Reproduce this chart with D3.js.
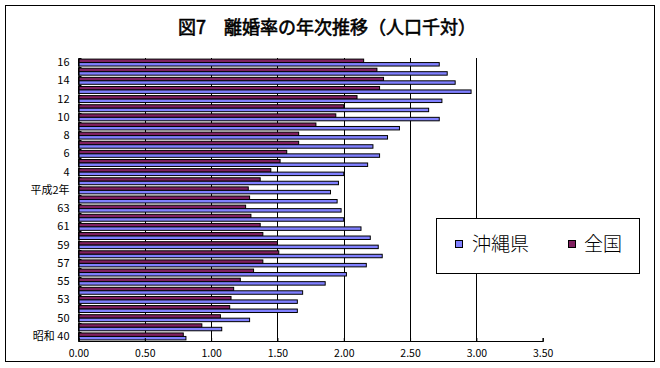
<!DOCTYPE html>
<html><head><meta charset="utf-8">
<script src="https://cdn.jsdelivr.net/npm/d3@7"></script>
<style>
html,body{margin:0;padding:0;background:#fff;}
svg{display:block;}
text{font-family:"Noto Sans CJK JP","DejaVu Sans",sans-serif;}
</style></head>
<body>
<svg id="chart" width="660" height="368"></svg>
<script>
// categories from bottom (昭和40) to top (平成16)
const categories = ["昭和40","昭和45","昭和50","昭和52","昭和53","昭和54","昭和55","昭和56","昭和57","昭和58","昭和59","昭和60","昭和61","昭和62","昭和63","平成元","平成2","平成3","平成4","平成5","平成6","平成7","平成8","平成9","平成10","平成11","平成12","平成13","平成14","平成15","平成16"];
const tickLabels = ["昭和 40","","50","","53","","55","","57","","59","","61","","63","","平成2年","","4","","6","","8","","10","","12","","14","","16"];
const okinawa = [0.81,1.08,1.29,1.65,1.65,1.69,1.86,2.02,2.17,2.29,2.26,2.20,2.13,2.00,1.98,1.95,1.90,1.96,2.00,2.18,2.27,2.22,2.33,2.42,2.72,2.64,2.74,2.96,2.84,2.78,2.72];
const zenkoku = [0.79,0.93,1.07,1.14,1.15,1.17,1.22,1.32,1.39,1.51,1.50,1.39,1.37,1.30,1.26,1.29,1.28,1.37,1.45,1.52,1.57,1.66,1.66,1.79,1.94,2.00,2.10,2.27,2.30,2.25,2.15];
const xTicks = [0,0.5,1.0,1.5,2.0,2.5,3.0,3.5];
const seriesNames = ["沖縄県","全国"];
const seriesColors = ["#8080FF","#802060"];
const title = "図7　離婚率の年次推移（人口千対）";

const svg = d3.select("#chart");
const L = 78.5, R = 542.7, T = 58, B = 341;

svg.append("rect").attr("x",5.5).attr("y",5.5).attr("width",649).attr("height",356)
  .attr("fill","#fff").attr("stroke","#000").attr("stroke-width",1);

svg.append("text").attr("x",327).attr("y",34).attr("text-anchor","middle")
  .attr("font-size",18).attr("font-weight","normal").attr("stroke","#000").attr("stroke-width",0.6)
  .text(title);

const x = d3.scaleLinear().domain([0,3.5]).range([L,R]);
const y = d3.scaleBand().domain(categories.slice().reverse()).range([T,B]).paddingInner(0.24).paddingOuter(0.12);
const sub = d3.scaleBand().domain(["全国","沖縄県"]).range([0,y.bandwidth()]);

// gridlines
svg.append("g").selectAll("line").data(xTicks.filter(d=>d>0 && d<3.5)).join("line")
  .attr("x1",d=>Math.round(x(d))+0.5).attr("x2",d=>Math.round(x(d))+0.5)
  .attr("y1",T).attr("y2",B).attr("stroke","#000").attr("stroke-width",1);

// bars
const rows = categories.map((c,i)=>({c, ok:okinawa[i], zk:zenkoku[i]}));
const g = svg.append("g");
g.selectAll("rect.zk").data(rows).join("rect").attr("class","zk")
  .attr("x",x(0)).attr("y",d=>y(d.c)+sub("全国"))
  .attr("width",d=>x(d.zk)-x(0)).attr("height",sub.bandwidth())
  .attr("fill",seriesColors[1]).attr("stroke","#000").attr("stroke-width",1);
g.selectAll("rect.ok").data(rows).join("rect").attr("class","ok")
  .attr("x",x(0)).attr("y",d=>y(d.c)+sub("沖縄県"))
  .attr("width",d=>x(d.ok)-x(0)).attr("height",sub.bandwidth())
  .attr("fill",seriesColors[0]).attr("stroke","#000").attr("stroke-width",1);

// x axis
const xa = svg.append("g").attr("transform",`translate(0,${B})`)
  .call(d3.axisBottom(x).tickValues(xTicks).tickFormat(d3.format(".2f")).tickSize(-3).tickPadding(9));
xa.select(".domain").attr("stroke","#000").attr("stroke-width",1.2);
xa.selectAll(".tick line").attr("stroke","#000");
xa.selectAll("text").attr("font-size",10.5).attr("font-family","'DejaVu Sans',sans-serif").attr("fill","#000");

// y axis
const ya = svg.append("g").attr("transform",`translate(${L},0)`)
  .call(d3.axisLeft(y).tickValues(categories.filter((c,i)=>tickLabels[i]!==""))
    .tickFormat(c=>tickLabels[categories.indexOf(c)]).tickSize(0).tickPadding(9));
ya.select(".domain").attr("stroke","#000").attr("stroke-width",1.2);
ya.selectAll("text").attr("font-size",11).attr("fill","#000");
// inside tick marks at category boundaries
const bounds = d3.range(categories.length+1).map(i=>T + i*(B-T)/categories.length);
svg.append("g").selectAll("line").data(bounds).join("line")
  .attr("x1",L).attr("x2",L+3).attr("y1",d=>Math.round(d)+0.5).attr("y2",d=>Math.round(d)+0.5)
  .attr("stroke","#000");

// legend
const lg = svg.append("g");
lg.append("rect").attr("x",436.5).attr("y",218.5).attr("width",203).attr("height",55)
  .attr("fill","#fff").attr("stroke","#000");
const lx = [455,568], tx=[472,584];
seriesNames.forEach((n,i)=>{
  lg.append("rect").attr("x",lx[i]+0.5).attr("y",240.5).attr("width",7).attr("height",7)
    .attr("fill",seriesColors[i]).attr("stroke","#000");
  lg.append("text").attr("x",tx[i]).attr("y",251).attr("font-size",19).attr("font-weight","300").text(n);
});
</script>
</body></html>
